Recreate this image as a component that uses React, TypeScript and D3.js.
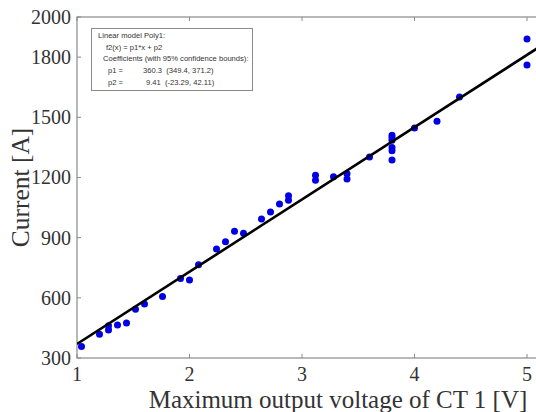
import React from "react";
import * as d3 from "d3";

const voltage = [1.04, 1.2, 1.28, 1.28, 1.36, 1.44, 1.52, 1.6, 1.76, 1.92, 2.0, 2.08, 2.24, 2.32, 2.4, 2.48, 2.64, 2.72, 2.8, 2.88, 2.88, 3.12, 3.12, 3.28, 3.4, 3.4, 3.6, 3.8, 3.8, 3.8, 3.8, 3.8, 3.8, 4.0, 4.2, 4.4, 5.0, 5.0];
const current = [357, 418, 440, 461, 465, 475, 543, 569, 606, 696, 689, 765, 843, 880, 932, 922, 993, 1028, 1068, 1087, 1109, 1211, 1186, 1204, 1219, 1192, 1302, 1410, 1398, 1385, 1350, 1333, 1287, 1447, 1480, 1601, 1890, 1761];
const xTicks = [1, 2, 3, 4, 5];
const yTicks = [300, 600, 900, 1200, 1500, 1800, 2000];
const p1 = 360.3;
const p2 = 9.41;
const legendLines = [
  "Linear model Poly1:",
  "f2(x) = p1*x + p2",
  "Coefficients (with 95% confidence bounds):",
];
const coefNames = ["p1 =", "p2 ="];
const coefValues = ["360.3  (349.4, 371.2)", "9.41  (-23.29, 42.11)"];

export default function App() {
  const W = 536, H = 412;
  const left = 77, top = 17, bottom = 358;
  const x = d3.scaleLinear().domain([1, 5]).range([left, 527]);
  const xMax = 5.12;
  const right = x(xMax);
  const y = d3.scaleLinear().domain([300, 2000]).range([bottom, top]);
  const axisColor = "#8a8a8a";
  const textColor = "#333";
  const serif = "'Liberation Serif', 'Times New Roman', serif";
  const sans = "'Liberation Sans', Arial, sans-serif";
  const fitX = [1, xMax];
  const line = d3.line<number>().x(d => x(d)).y(d => y(p1 * d + p2));
  return (
    <svg width={W} height={H} style={{ position: "absolute", left: 0, top: 0, background: "#fff" }}>
      <defs>
        <clipPath id="plot">
          <rect x={left} y={top} width={right - left} height={bottom - top} />
        </clipPath>
      </defs>
      <rect x={0} y={0} width={W} height={H} fill="#fff" />
      <rect x={left} y={top} width={right - left} height={bottom - top} fill="none" stroke={axisColor} strokeWidth={1.2} />
      {xTicks.map(t => (
        <g key={"x" + t}>
          <line x1={x(t)} x2={x(t)} y1={bottom} y2={bottom - 4} stroke={axisColor} />
          <line x1={x(t)} x2={x(t)} y1={top} y2={top + 4} stroke={axisColor} />
          <text x={x(t)} y={bottom + 23} textAnchor="middle" fontFamily={serif} fontSize={20} fill={textColor}>{t}</text>
        </g>
      ))}
      {yTicks.map(t => (
        <g key={"y" + t}>
          <line x1={left} x2={left + 4} y1={y(t)} y2={y(t)} stroke={axisColor} />
          <line x1={right} x2={right - 4} y1={y(t)} y2={y(t)} stroke={axisColor} />
          <text x={left - 6} y={y(t) + 7} textAnchor="end" fontFamily={serif} fontSize={20} fill={textColor}>{t}</text>
        </g>
      ))}
      <text x={338} y={408} textAnchor="middle" fontFamily={serif} fontSize={25} fill={textColor}>Maximum output voltage of CT 1 [V]</text>
      <text transform={`translate(29, ${(top + bottom) / 2}) rotate(-90)`} textAnchor="middle" fontFamily={serif} fontSize={25.5} fill={textColor}>Current [A]</text>
      <g clipPath="url(#plot)">
        {voltage.map((v, i) => (
          <circle key={i} cx={x(v)} cy={y(current[i])} r={3.5} fill="#0000e6" />
        ))}
        <path d={line(fitX) || ""} stroke="#000" strokeWidth={2.6} fill="none" />
      </g>
      <rect x={91.5} y={28.5} width={161} height={62} fill="#fff" stroke={axisColor} strokeWidth={1} />
      <g fontFamily={sans} fontSize={7.6} fill={textColor}>
        <text x={98} y={38}>{legendLines[0]}</text>
        <text x={106} y={49.5}>{legendLines[1]}</text>
        <text x={103} y={61}>{legendLines[2]}</text>
        {coefNames.map((n, i) => (
          <g key={n}>
            <text x={108} y={73 + i * 11.5}>{n}</text>
            <text x={i === 0 ? 143 : 146} y={73 + i * 11.5} style={{ whiteSpace: "pre" }}>{coefValues[i]}</text>
          </g>
        ))}
      </g>
    </svg>
  );
}
